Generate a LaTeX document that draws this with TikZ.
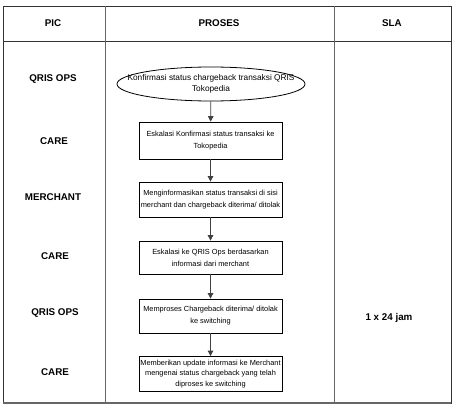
\documentclass[tikz,border=0pt]{standalone}
\usepackage{fontspec}
\setmainfont{Liberation Sans}
\usetikzlibrary{shapes.geometric,arrows.meta}
\begin{document}
\begin{tikzpicture}[x=1pt,y=-1pt,
  grid/.style={draw=black!80,line width=0.8pt},
  colline/.style={draw=black!60,line width=0.8pt},
  lbl/.style={font=\fontsize{9.8pt}{11pt}\selectfont\bfseries,inner sep=0pt},
  procbox/.style={draw=black,line width=0.8pt,minimum width=143pt,minimum height=35pt,inner sep=0pt,align=center,font=\fontsize{7.4pt}{12pt}\selectfont},
  startnode/.style={ellipse,draw=black,line width=0.8pt,minimum width=188pt,minimum height=34pt,inner xsep=-26pt,inner ysep=0pt,align=center,font=\fontsize{8.3pt}{11.5pt}\selectfont},
  flow/.style={draw=black!75,line width=0.8pt,-{Triangle[length=5.5pt,width=5.5pt]}}
]
\useasboundingbox (0,0) rectangle (454,412);
\fill[white] (0,0) rectangle (454,412);
% table
\draw[grid] (3,6) rectangle (451,403);
\draw[grid] (3,41) -- (451,41);
\draw[colline] (105,6) -- (105,403);
\draw[colline] (334,6) -- (334,403);
\draw[draw=black!60,line width=1.2pt] (3,403) -- (451,403);
% header
\node[lbl] (hpic) at (53,23.5) {PIC};
\node[lbl] (hproses) at (219,23.5) {PROSES};
\node[lbl] (hsla) at (392,23.5) {SLA};
% PIC labels
\node[lbl] (p1) at (53,79) {QRIS OPS};
\node[lbl] (p2) at (54,141) {CARE};
\node[lbl] (p3) at (53,197) {MERCHANT};
\node[lbl] (p4) at (55,256) {CARE};
\node[lbl] (p5) at (55,313) {QRIS OPS};
\node[lbl] (p6) at (55,372) {CARE};
% SLA
\node[lbl] (sla) at (389,318) {1 x 24 jam};
% process
\node[startnode] (s0) at (211,84) {Konfirmasi status chargeback transaksi QRIS\\Tokopedia};
\node[procbox,minimum height=37pt] (b1) at (210.5,140.5) {Eskalasi Konfirmasi status transaksi ke\\Tokopedia};
\node[procbox] (b2) at (210.5,199.5) {Menginformasikan status transaksi di sisi\\merchant dan chargeback diterima/ ditolak};
\node[procbox,minimum height=33pt] (b3) at (210.5,257.5) {Eskalasi ke QRIS Ops berdasarkan\\informasi dari merchant};
\node[procbox,minimum height=34pt] (b4) at (210.5,316) {Memproses Chargeback diterima/ ditolak\\ke switching};
\node[procbox,font=\fontsize{7.4pt}{10.6pt}\selectfont] (b5) at (210.5,374) {Memberikan update informasi ke Merchant\\mengenai status chargeback yang telah\\diproses ke switching};
% arrows
\draw[flow] (s0) -- (b1);
\draw[flow] (b1) -- (b2);
\draw[flow] (b2) -- (b3);
\draw[flow] (b3) -- (b4);
\draw[flow] (b4) -- (b5);
\end{tikzpicture}
\end{document}
